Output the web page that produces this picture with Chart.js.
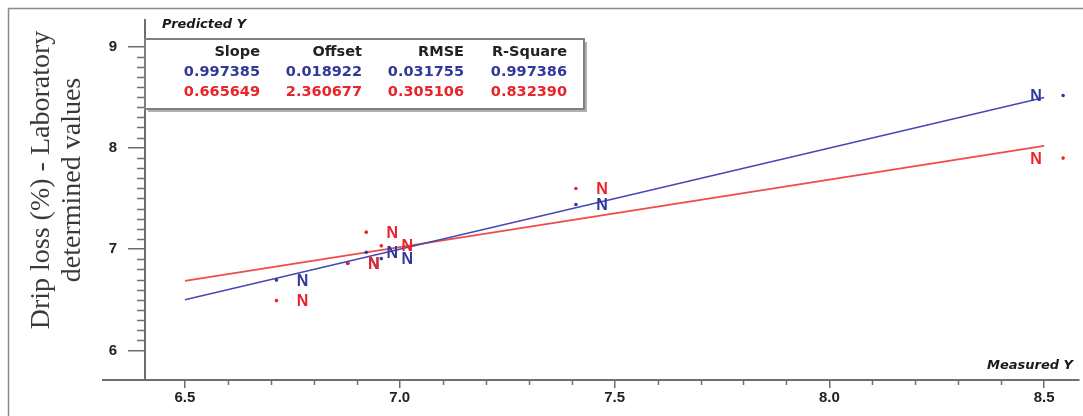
<!DOCTYPE html>
<html>
<head>
<meta charset="utf-8">
<script src="https://cdn.jsdelivr.net/npm/chart.js@4.4.1/dist/chart.umd.min.js"></script>
<style>
  body { margin: 0; background: #fff; }
  #wrap { width: 1083px; height: 416px; }
</style>
</head>
<body>
<div id="wrap"><canvas id="plsChart" width="1083" height="416"></canvas></div>
<script>
// --- Data ---
const measured = [6.713, 6.879, 6.922, 6.957, 7.410, 8.544];
const predictedBlue = [6.695, 6.862, 6.970, 6.907, 7.441, 8.515];
const predictedRed = [6.493, 6.859, 7.168, 7.033, 7.599, 7.898];
const sampleNames = ['N', 'N', 'N', 'N', 'N', 'N'];

const statHeaders = ['Slope', 'Offset', 'RMSE', 'R-Square'];
const statsBlue = ['0.997385', '0.018922', '0.031755', '0.997386'];
const statsRed = ['0.665649', '2.360677', '0.305106', '0.832390'];

const fitRange = [6.5, 8.5];
const xTicks = [6.5, 7.0, 7.5, 8.0, 8.5];
const yTicks = [6, 7, 8, 9];

document.addEventListener('DOMContentLoaded', () => {

    // --- Colours ---
    const blueLine = '#4747b5';
    const blueText = '#30399a';
    const redLine = '#f04a4a';
    const redText = '#e8242a';
    const axisColor = '#6e6e6e';
    const tickFont = { family: '"Liberation Sans", Arial, sans-serif', size: 15, weight: 'bold' };

    // fitted lines from the slope / offset in the table
    const fitLine = (stats) => {
        const slope = parseFloat(stats[0]);
        const offset = parseFloat(stats[1]);
        return fitRange.map(x => ({ x: x, y: slope * x + offset }));
    };
    const toPoints = (ys) => measured.map((x, i) => ({ x: x, y: ys[i] }));

    // --- Extra drawing: frame, minor ticks, titles, stats box, sample names ---
    const decorPlugin = {
        id: 'decor',
        beforeDraw(chart) {
            const c = chart.ctx;
            c.save();
            c.strokeStyle = '#8a8a8a';
            c.lineWidth = 1.5;
            c.strokeRect(8.5, 8.5, 1090, 420);
            c.restore();
        },
        afterDraw(chart) {
            const c = chart.ctx;
            const xs = chart.scales.x;
            const ys = chart.scales.y;
            const area = chart.chartArea;

            c.save();
            // x axis line runs a bit left of the y axis
            c.strokeStyle = axisColor;
            c.lineWidth = 2;
            c.beginPath();
            c.moveTo(102, area.bottom);
            c.lineTo(area.left, area.bottom);
            c.stroke();

            // minor ticks every 0.1
            c.lineWidth = 1.5;
            c.beginPath();
            for (let k = 61; k < 90; k++) {
                if (k % 10 === 0) continue;
                const py = Math.round(ys.getPixelForValue(k / 10)) + 0.5;
                c.moveTo(area.left - 8, py);
                c.lineTo(area.left, py);
            }
            for (let k = 66; k < 85; k++) {
                if (k % 5 === 0) continue;
                const px = Math.round(xs.getPixelForValue(k / 10)) + 0.5;
                c.moveTo(px, area.bottom);
                c.lineTo(px, area.bottom + 5);
            }
            c.stroke();

            // y axis title, two lines
            c.fillStyle = '#3a3a3a';
            c.font = '28px "Liberation Serif", "Times New Roman", serif';
            c.textAlign = 'center';
            c.textBaseline = 'middle';
            [['Drip loss (%) - Laboratory', 42], ['determined values', 73]].forEach(([txt, x]) => {
                c.save();
                c.translate(x, 180);
                c.rotate(-Math.PI / 2);
                c.fillText(txt, 0, 0);
                c.restore();
            });

            // axis names
            c.fillStyle = '#1a1a1a';
            c.font = 'italic bold 13px "DejaVu Sans", Verdana, sans-serif';
            c.textAlign = 'left';
            c.fillText('Predicted Y', 162, 25);
            c.textAlign = 'right';
            c.fillText('Measured Y', 1073, 366);

            // stats box
            const bx = area.left, by = 39, bw = 439, bh = 70;
            c.fillStyle = '#ffffff';
            c.fillRect(bx, by, bw, bh);
            c.strokeStyle = '#808080';
            c.lineWidth = 2;
            c.strokeRect(bx, by, bw, bh);
            c.strokeStyle = '#b0b0b0';
            c.beginPath();
            c.moveTo(bx + bw + 2, by + 3);
            c.lineTo(bx + bw + 2, by + bh + 2);
            c.lineTo(bx + 3, by + bh + 2);
            c.stroke();

            const colRight = [260, 362, 464, 567];
            c.font = 'bold 14.5px "DejaVu Sans", Verdana, sans-serif';
            c.textAlign = 'right';
            [[statHeaders, '#222222', 52], [statsBlue, blueText, 72], [statsRed, redText, 92]].forEach(([row, col, y]) => {
                c.fillStyle = col;
                row.forEach((t, i) => c.fillText(t, colRight[i], y));
            });
            c.restore();
        },
        afterDatasetsDraw(chart) {
            const c = chart.ctx;
            c.save();
            c.font = 'bold 16px "Liberation Sans", Arial, sans-serif';
            c.textAlign = 'center';
            c.textBaseline = 'middle';
            [[1, blueText], [0, redText]].forEach(([idx, col]) => {
                const meta = chart.getDatasetMeta(idx);
                c.fillStyle = col;
                meta.data.forEach((pt, i) => {
                    // label flips to the left at the right edge
                    const dx = pt.x > chart.chartArea.right - 40 ? -27 : 26;
                    c.fillText(sampleNames[i], pt.x + dx, pt.y + 1);
                });
            });
            c.restore();
        }
    };

    const ctx = document.getElementById('plsChart');
    new Chart(ctx, {
        type: 'scatter',
        data: {
            datasets: [
                { label: 'Predicted Y (red)', data: toPoints(predictedRed), backgroundColor: redText, borderWidth: 0, pointRadius: 1.8 },
                { label: 'Predicted Y (blue)', data: toPoints(predictedBlue), backgroundColor: blueText, borderWidth: 0, pointRadius: 1.8 },
                { label: 'Fit (blue)', data: fitLine(statsBlue), showLine: true, borderColor: blueLine, borderWidth: 1.6, pointRadius: 0 },
                { label: 'Fit (red)', data: fitLine(statsRed), showLine: true, borderColor: redLine, borderWidth: 1.6, pointRadius: 0 }
            ]
        },
        options: {
            responsive: false,
            animation: false,
            layout: { padding: { top: 12, right: 0, left: 0, bottom: 0 } },
            plugins: { legend: { display: false }, tooltip: { enabled: false } },
            scales: {
                x: {
                    type: 'linear', min: 6.407, max: 8.581,
                    afterBuildTicks: (s) => { s.ticks = xTicks.map(v => ({ value: v })); },
                    afterFit: (s) => { s.height = 36; },
                    grid: { drawOnChartArea: false, tickLength: 8, color: axisColor, lineWidth: 1.5 },
                    border: { color: axisColor, width: 2 },
                    ticks: { callback: (v) => v.toFixed(1), font: tickFont, color: '#222222', padding: 1, maxRotation: 0, autoSkip: false }
                },
                y: {
                    type: 'linear', min: 5.71, max: 9.26,
                    afterBuildTicks: (s) => { s.ticks = yTicks.map(v => ({ value: v })); },
                    afterFit: (s) => { s.width = 145; },
                    grid: { drawOnChartArea: false, tickLength: 17, color: axisColor, lineWidth: 1.5 },
                    border: { color: axisColor, width: 2 },
                    ticks: { callback: (v) => String(v), font: tickFont, color: '#222222', padding: 11, autoSkip: false }
                }
            }
        },
        plugins: [decorPlugin]
    });
});
</script>
</body>
</html>
